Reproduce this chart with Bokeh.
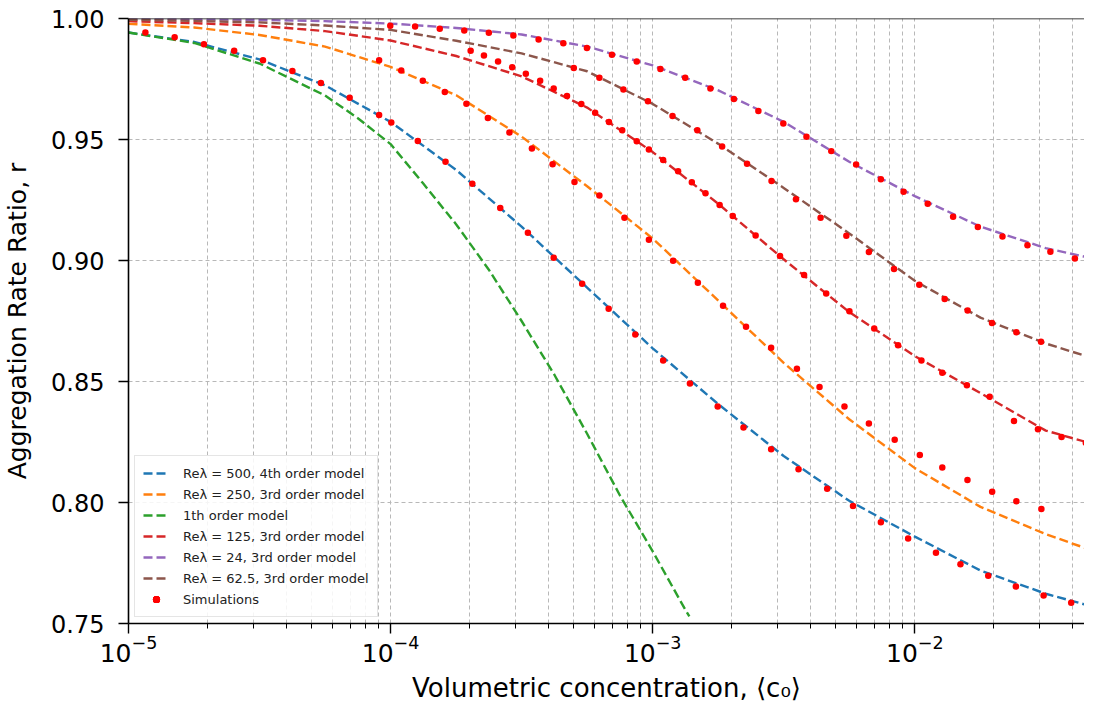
from bokeh.plotting import figure
from bokeh.models import FixedTicker, LogTickFormatter, PrintfTickFormatter, Span
from bokeh.embed import file_html
from bokeh.resources import INLINE

# ---------------- data ----------------
# model curves, sampled along concentration
curve_c = [1.0e-5, 1.78e-5, 3.16e-5, 5.62e-5, 1.0e-4, 1.78e-4, 3.16e-4, 5.62e-4,
           1.0e-3, 1.78e-3, 3.16e-3, 5.62e-3, 1.0e-2, 1.78e-2, 3.16e-2, 4.44e-2]
re500_model = [0.9942, 0.9903, 0.9831, 0.9724, 0.9573, 0.9374, 0.9140, 0.8888,
               0.8637, 0.8406, 0.8192, 0.8007, 0.7859, 0.7719, 0.7623, 0.7579]
re250_model = [0.9978, 0.9963, 0.9932, 0.9884, 0.9800, 0.9683, 0.9512, 0.9307,
               0.9091, 0.8834, 0.8577, 0.8344, 0.8142, 0.7982, 0.7869, 0.7813]
re125_model = [0.9989, 0.9981, 0.9970, 0.9948, 0.9909, 0.9845, 0.9761, 0.9632,
               0.9448, 0.9234, 0.9005, 0.8787, 0.8605, 0.8452, 0.8297, 0.8252]
re24_model = [0.9998, 0.9997, 0.9994, 0.9989, 0.9979, 0.9961, 0.9934, 0.9884,
              0.9806, 0.9703, 0.9573, 0.9408, 0.9266, 0.9140, 0.9051, 0.9016]
re62_model = [0.9995, 0.9990, 0.9984, 0.9971, 0.9953, 0.9908, 0.9856, 0.9782,
              0.9647, 0.9482, 0.9300, 0.9112, 0.8916, 0.8764, 0.8657, 0.8607]

first_c = [1.0e-5, 1.78e-5, 3.16e-5, 5.62e-5, 7.5e-5, 1.0e-4, 1.33e-4, 1.78e-4,
           2.37e-4, 3.16e-4, 4.22e-4, 5.62e-4, 7.5e-4, 1.0e-3, 1.33e-3, 1.38e-3]
first_model = [0.9942, 0.9899, 0.9814, 0.9682, 0.9588, 0.9481, 0.9319, 0.9149,
               0.8962, 0.8750, 0.8527, 0.8284, 0.8029, 0.7798, 0.7558, 0.7529]

# simulations
sim500_c = [1.16e-5, 1.50e-5, 1.94e-5, 2.53e-5, 3.26e-5, 4.22e-5, 5.42e-5, 6.98e-5,
            9.04e-5, 1.006e-4, 1.27e-4, 1.62e-4, 2.05e-4, 2.62e-4, 3.34e-4, 4.19e-4,
            5.38e-4, 6.79e-4, 8.58e-4, 1.096e-3, 1.387e-3, 1.77e-3, 2.22e-3, 2.83e-3,
            3.60e-3, 4.63e-3, 5.81e-3, 7.42e-3, 9.43e-3, 1.204e-2, 1.493e-2, 1.906e-2,
            2.43e-2, 3.10e-2, 3.95e-2]
sim500_r = [0.9942, 0.9923, 0.9894, 0.9867, 0.9827, 0.9783, 0.9733, 0.9673,
            0.9601, 0.9570, 0.9494, 0.9408, 0.9317, 0.9217, 0.9115, 0.9011,
            0.8904, 0.8801, 0.8694, 0.8587, 0.8492, 0.8397, 0.8310, 0.8220,
            0.8137, 0.8057, 0.7986, 0.7918, 0.7851, 0.7792, 0.7745, 0.7697,
            0.7653, 0.7616, 0.7586]
sim250_c = [9.04e-5, 1.098e-4, 1.327e-4, 1.61e-4, 1.946e-4, 2.35e-4, 2.84e-4, 3.46e-4,
            4.15e-4, 5.03e-4, 6.26e-4, 7.80e-4, 9.67e-4, 1.196e-3, 1.487e-3, 1.855e-3,
            2.27e-3, 2.83e-3, 3.55e-3, 4.33e-3, 5.39e-3, 6.68e-3, 8.38e-3, 1.045e-2,
            1.273e-2, 1.588e-2, 1.973e-2, 2.44e-2, 3.04e-2]
sim250_r = [0.9827, 0.9785, 0.9743, 0.9696, 0.9648, 0.9589, 0.9529, 0.9463,
            0.9398, 0.9324, 0.9269, 0.9177, 0.9086, 0.8999, 0.8908, 0.8813,
            0.8726, 0.8639, 0.8553, 0.8477, 0.8397, 0.8326, 0.8259, 0.8196,
            0.8145, 0.8093, 0.8044, 0.8005, 0.7973]
sim125_c = [2.02e-4, 2.27e-4, 2.57e-4, 2.91e-4, 3.28e-4, 3.72e-4, 4.19e-4, 4.71e-4,
            5.34e-4, 6.03e-4, 6.81e-4, 7.65e-4, 8.69e-4, 9.67e-4, 1.096e-3, 1.25e-3,
            1.41e-3, 1.59e-3, 1.80e-3, 2.02e-3, 2.47e-3, 3.06e-3, 3.78e-3, 4.59e-3,
            5.63e-3, 7.00e-3, 8.63e-3, 1.06e-2, 1.273e-2, 1.58e-2, 1.93e-2, 2.39e-2,
            2.95e-2, 3.63e-2, 4.49e-2]
sim125_r = [0.9867, 0.9847, 0.9822, 0.9799, 0.9772, 0.9743, 0.9711, 0.9680,
            0.9647, 0.9611, 0.9572, 0.9538, 0.9493, 0.9459, 0.9415, 0.9369,
            0.9323, 0.9278, 0.9229, 0.9184, 0.9103, 0.9019, 0.8940, 0.8864,
            0.8790, 0.8719, 0.8650, 0.8587, 0.8536, 0.8485, 0.8437, 0.8337,
            0.8303, 0.8271, 0.8246]
sim24_c = [9.97e-5, 1.24e-4, 1.54e-4, 1.91e-4, 2.37e-4, 2.94e-4, 3.67e-4, 4.56e-4,
           5.61e-4, 6.99e-4, 8.69e-4, 1.07e-3, 1.33e-3, 1.66e-3, 2.04e-3, 2.53e-3,
           3.15e-3, 3.86e-3, 4.80e-3, 5.97e-3, 7.42e-3, 9.06e-3, 1.12e-2, 1.40e-2,
           1.74e-2, 2.16e-2, 2.69e-2, 3.29e-2, 4.08e-2]
sim24_r = [0.9970, 0.9967, 0.9958, 0.9950, 0.9941, 0.9930, 0.9913, 0.9898,
           0.9878, 0.9850, 0.9822, 0.9791, 0.9755, 0.9711, 0.9667, 0.9618,
           0.9566, 0.9511, 0.9452, 0.9397, 0.9336, 0.9284, 0.9234, 0.9181,
           0.9138, 0.9099, 0.9063, 0.9036, 0.9008]
sim62_c = [5.00e-4, 6.26e-4, 7.73e-4, 9.59e-4, 1.19e-3, 1.48e-3, 1.84e-3, 2.29e-3,
           2.84e-3, 3.52e-3, 4.37e-3, 5.48e-3, 6.68e-3, 8.33e-3, 1.04e-2, 1.30e-2,
           1.59e-2, 1.97e-2, 2.44e-2, 3.03e-2]
sim62_r = [0.9795, 0.9755, 0.9707, 0.9658, 0.9597, 0.9538, 0.9471, 0.9400,
           0.9328, 0.9253, 0.9177, 0.9102, 0.9035, 0.8965, 0.8900, 0.8841,
           0.8793, 0.8742, 0.8703, 0.8664]

labels = ["Re\u03bb = 500, 4th order model", "Re\u03bb = 250, 3rd order model",
          "1th order model", "Re\u03bb = 125, 3rd order model",
          "Re\u03bb = 24, 3rd order model", "Re\u03bb = 62.5, 3rd order model"]
y_ticks = [0.75, 0.80, 0.85, 0.90, 0.95, 1.00]
x_ticks = [1e-5, 1e-4, 1e-3, 1e-2]

# ---------------- figure ----------------
FONT = "DejaVu Sans"
p = figure(width=1084, height=705, x_axis_type="log",
           x_range=(1e-5, 0.0444), y_range=(0.75, 1.0),
           output_backend="svg", toolbar_location=None,
           min_border_left=120, min_border_right=0, min_border_top=18,
           min_border_bottom=80)
p.outline_line_color = None
p.background_fill_color = "white"
p.border_fill_color = "white"

minor = [m * d for d in [1e-5, 1e-4, 1e-3, 1e-2] for m in range(2, 10)]
p.xaxis.ticker = FixedTicker(ticks=x_ticks, minor_ticks=minor)
p.xaxis.formatter = LogTickFormatter()
p.yaxis.ticker = FixedTicker(ticks=y_ticks)
p.yaxis.formatter = PrintfTickFormatter(format="%.2f")

for ax in (p.xaxis, p.yaxis):
    ax.axis_line_color = "black"
    ax.axis_line_width = 1.6
    ax.major_tick_line_color = "black"
    ax.major_tick_line_width = 1.4
    ax.major_tick_out = 10
    ax.major_tick_in = 0
    ax.minor_tick_line_color = "black"
    ax.minor_tick_line_width = 1.0
    ax.minor_tick_out = 5
    ax.minor_tick_in = 0
    ax.major_label_text_font = FONT
    ax.major_label_text_font_size = "24px"
    ax.major_label_text_color = "black"
    ax.axis_label_text_font = FONT
    ax.axis_label_text_font_style = "normal"
    ax.axis_label_text_color = "black"

p.xaxis.major_label_text_font_size = "25px"
p.xaxis.axis_label_text_font_size = "26px"
p.yaxis.axis_label_text_font_size = "25px"
p.xaxis.axis_label = "Volumetric concentration, \u27e8c\u2080\u27e9"
p.yaxis.axis_label = "Aggregation Rate Ratio, r"
p.yaxis.major_label_standoff = 14
p.xaxis.major_label_standoff = 1
p.yaxis.axis_label_standoff = 16
p.xaxis.axis_label_standoff = 8

grid_color = "#b8b8b8"
p.xgrid.grid_line_color = grid_color
p.xgrid.grid_line_dash = "4 3"
p.xgrid.grid_line_width = 1
p.xgrid.minor_grid_line_color = grid_color
p.xgrid.minor_grid_line_dash = "4 3"
p.xgrid.minor_grid_line_width = 1
p.ygrid.grid_line_color = grid_color
p.ygrid.grid_line_dash = "4 3"
p.ygrid.grid_line_width = 1

colors = ["#1f77b4", "#ff7f0e", "#2ca02c", "#d62728", "#9467bd", "#8c564b"]
series = [(curve_c, re500_model), (curve_c, re250_model), (first_c, first_model),
          (curve_c, re125_model), (curve_c, re24_model), (curve_c, re62_model)]
for (xs, ys), col, lab in zip(series, colors, labels):
    p.line(xs, ys, line_color=col, line_width=2.4, line_dash="9 4", legend_label=lab)

for xs, ys in [(sim500_c, sim500_r), (sim250_c, sim250_r), (sim125_c, sim125_r),
               (sim24_c, sim24_r), (sim62_c, sim62_r)]:
    p.scatter(xs, ys, size=6.5, fill_color="red", line_color="red", line_width=0,
              legend_label="Simulations")

p.add_layout(Span(location=1.0, dimension="width", line_color="black", line_width=1.6))

lg = p.legend[0]
lg.location = "bottom_left"
lg.margin = 6
lg.padding = 8
lg.spacing = 3
lg.label_height = 18
lg.glyph_height = 18
lg.glyph_width = 26
lg.label_standoff = 14
lg.label_text_font = FONT
lg.label_text_font_size = "13px"
lg.label_text_color = "#222222"
lg.border_line_color = "#cccccc"
lg.border_line_width = 1.5
lg.background_fill_alpha = 0.85

open("out.html", "w").write(file_html(p, INLINE))
